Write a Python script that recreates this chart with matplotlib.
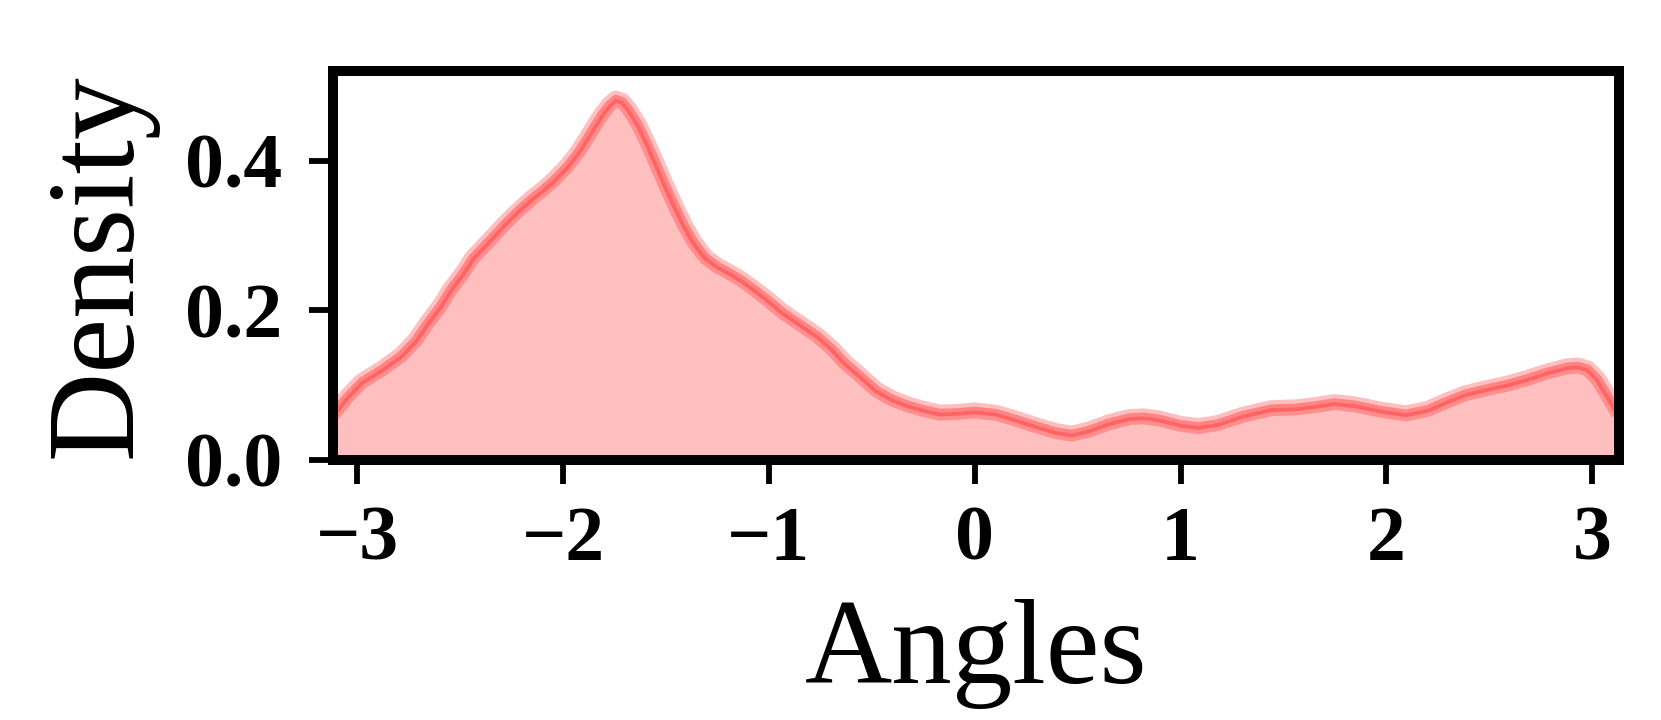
import numpy as np
import matplotlib
matplotlib.use("Agg")
from matplotlib import pyplot as plt

# Density curve (angle in rad, density)
angles = [-3.12, -3.05, -2.98, -2.88, -2.79, -2.72, -2.66, -2.60, -2.55, -2.49, -2.44,
          -2.36, -2.29, -2.22, -2.155, -2.10, -2.05, -1.98, -1.93, -1.89, -1.85, -1.81,
          -1.775, -1.745, -1.71, -1.675, -1.63, -1.59, -1.545, -1.50, -1.455, -1.41,
          -1.36, -1.305, -1.25, -1.196, -1.13, -1.065, -1.00, -0.935, -0.85, -0.76,
          -0.69, -0.63, -0.55, -0.477, -0.40, -0.325, -0.25, -0.17, -0.08, 0.0, 0.10,
          0.20, 0.30, 0.40, 0.472, 0.55, 0.65, 0.75, 0.821, 0.90, 1.00, 1.088, 1.18,
          1.30, 1.44, 1.56, 1.65, 1.747, 1.85, 1.97, 2.095, 2.20, 2.30, 2.384, 2.49,
          2.59, 2.68, 2.78, 2.878, 2.93, 2.98, 3.03, 3.08, 3.13]
density = [0.061, 0.085, 0.105, 0.122, 0.140, 0.160, 0.184, 0.206, 0.228, 0.250, 0.271,
           0.294, 0.315, 0.334, 0.350, 0.362, 0.374, 0.394, 0.412, 0.429, 0.447, 0.464,
           0.476, 0.483, 0.480, 0.468, 0.448, 0.425, 0.397, 0.368, 0.341, 0.315,
           0.291, 0.271, 0.260, 0.252, 0.241, 0.228, 0.214, 0.199, 0.183, 0.166,
           0.149, 0.131, 0.112, 0.094, 0.082, 0.074, 0.068, 0.063, 0.064, 0.066, 0.063,
           0.055, 0.046, 0.038, 0.035, 0.040, 0.050, 0.057, 0.058, 0.055, 0.048, 0.045, 0.049,
           0.060, 0.069, 0.070, 0.073, 0.077, 0.074, 0.067, 0.062, 0.068, 0.080, 0.089, 0.096,
           0.102, 0.109, 0.118, 0.125, 0.126, 0.122, 0.108, 0.085, 0.062]

x_ticks = [-3, -2, -1, 0, 1, 2, 3]
y_ticks = [0.0, 0.2, 0.4]

plt.rcParams["font.family"] = ["Liberation Serif", "DejaVu Serif"]

fig = plt.figure(figsize=(16.61, 7.2), dpi=100)
ax = fig.add_axes([0.2002, 0.3615, 0.7745, 0.5399])

# Filled density with a soft double-edged outline
ax.fill_between(angles, 0, density, facecolor="red", alpha=0.25,
                edgecolor="none")
ax.plot(angles, density, color="red", alpha=0.25, lw=11.5,
        solid_capstyle="butt", solid_joinstyle="round")
ax.plot(angles, density, color="red", alpha=0.3, lw=5.5,
        solid_capstyle="butt", solid_joinstyle="round")
ax.axhline(0, color="red", alpha=0.4, lw=1)

# Axis settings
ax.set_xlim(-3.12, 3.13)
ax.set_ylim(0, 0.52)
ax.set_xticks(x_ticks)
ax.set_yticks(y_ticks)
ax.set_xticklabels([str(t).replace("-", "\u2212") for t in x_ticks])
ax.set_yticklabels([f"{t:.1f}" for t in y_ticks])

for s in ax.spines.values():
    s.set_linewidth(7.2)
ax.tick_params(axis="both", length=17, width=4.2, labelsize=56)
ax.tick_params(axis="y", pad=19)
ax.tick_params(axis="x", pad=16)
for lab in ax.get_xticklabels() + ax.get_yticklabels():
    lab.set_fontweight("bold")

ax.set_xlabel("Angles", fontsize=87, labelpad=16)
ax.set_ylabel("Density", fontsize=89, labelpad=20)

plt.savefig("out.png", dpi=100)
